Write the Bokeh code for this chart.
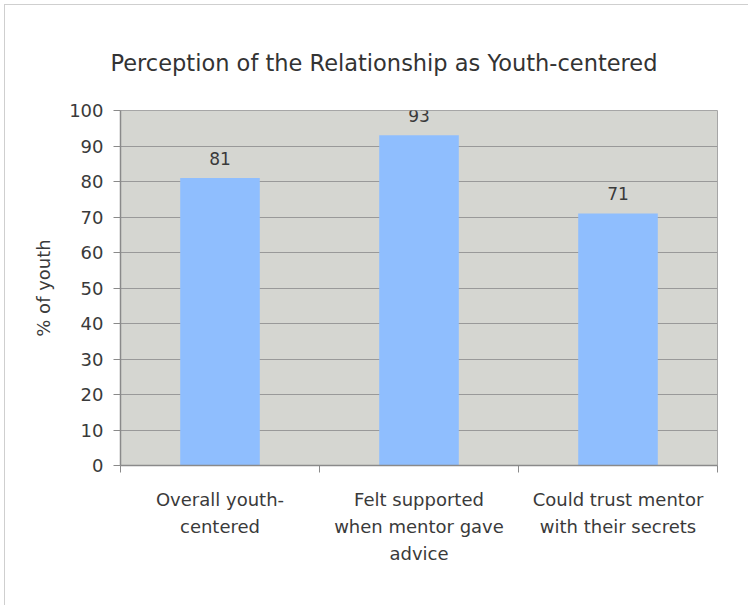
from bokeh.plotting import figure
from bokeh.models import ColumnDataSource, Range1d, FixedTicker, LabelSet
from bokeh.core.properties import value
from bokeh.embed import file_html
from bokeh.resources import INLINE

categories = ["Overall youth-\ncentered",
              "Felt supported\nwhen mentor gave\nadvice",
              "Could trust mentor\nwith their secrets"]
values = [81, 93, 71]
y_ticks = [0, 10, 20, 30, 40, 50, 60, 70, 80, 90, 100]

FONT = "DejaVu Sans"
TEXT = "#3a3a3a"

xs = [i + 0.5 for i in range(len(categories))]
src = ColumnDataSource(dict(x=xs, top=values, lab=[str(v) for v in values]))

p = figure(width=744, height=601, output_backend="svg", toolbar_location=None,
           x_range=Range1d(0, len(categories)), y_range=Range1d(0, 100),
           title="Perception of the Relationship as Youth-centered")
p.styles = {"margin-left": "4px", "margin-top": "4px",
            "border-left": "1px solid #cfcfcf", "border-top": "1px solid #cfcfcf"}
p.min_border_left = 115
p.min_border_right = 32
p.min_border_top = 105
p.min_border_bottom = 141

p.title.align = "left"
p.title.offset = -10
p.title.text_font = FONT
p.title.text_font_size = "22.5px"
p.title.text_font_style = "normal"
p.title.text_color = "#333333"
p.title.standoff = 70

p.background_fill_color = "#d5d6d1"
p.border_fill_color = "white"
p.outline_line_color = "#a6a6a6"
p.outline_line_width = 1

p.vbar(x="x", top="top", width=0.4, source=src, fill_color="#8fbefe", line_color=None)

labels = LabelSet(x="x", y="top", text="lab", source=src, text_align="center",
                  text_baseline="bottom", y_offset=13, text_font=value(FONT),
                  text_font_size=value("17px"), text_color=value(TEXT))
p.add_layout(labels)

# grid
p.xgrid.grid_line_color = None
p.ygrid.ticker = FixedTicker(ticks=y_ticks)
p.ygrid.grid_line_color = "#999999"
p.ygrid.grid_line_width = 1.2

# y axis
p.yaxis.ticker = FixedTicker(ticks=y_ticks)
p.yaxis.axis_line_color = "#8a8a8a"
p.yaxis.axis_line_width = 1.5
p.yaxis.major_tick_line_color = "#8a8a8a"
p.yaxis.major_tick_out = 7
p.yaxis.major_tick_in = 0
p.yaxis.minor_tick_line_color = None
p.yaxis.major_label_standoff = 10
p.yaxis.major_label_text_font = FONT
p.yaxis.major_label_text_font_size = "18px"
p.yaxis.major_label_text_color = TEXT
p.yaxis.axis_label = "% of youth"
p.yaxis.axis_label_text_font = FONT
p.yaxis.axis_label_text_font_size = "18px"
p.yaxis.axis_label_text_font_style = "normal"
p.yaxis.axis_label_text_color = TEXT
p.yaxis.axis_label_standoff = 12

# x axis: labels at centres, ticks at category boundaries
bounds = list(range(len(categories) + 1))
p.xaxis.ticker = FixedTicker(ticks=xs, minor_ticks=bounds)
p.xaxis.major_label_overrides = {x: c for x, c in zip(xs, categories)}
p.xaxis.axis_line_color = "#8a8a8a"
p.xaxis.axis_line_width = 1.5
p.xaxis.major_tick_line_color = None
p.xaxis.major_tick_out = 0
p.xaxis.major_tick_in = 0
p.xaxis.minor_tick_line_color = "#8a8a8a"
p.xaxis.minor_tick_out = 7
p.xaxis.minor_tick_in = 0
p.xaxis.major_label_standoff = 16
p.xaxis.major_label_text_font = FONT
p.xaxis.major_label_text_font_size = "18px"
p.xaxis.major_label_text_color = TEXT
p.xaxis.major_label_text_line_height = 1.3

open("out.html", "w").write(file_html(p, INLINE))
